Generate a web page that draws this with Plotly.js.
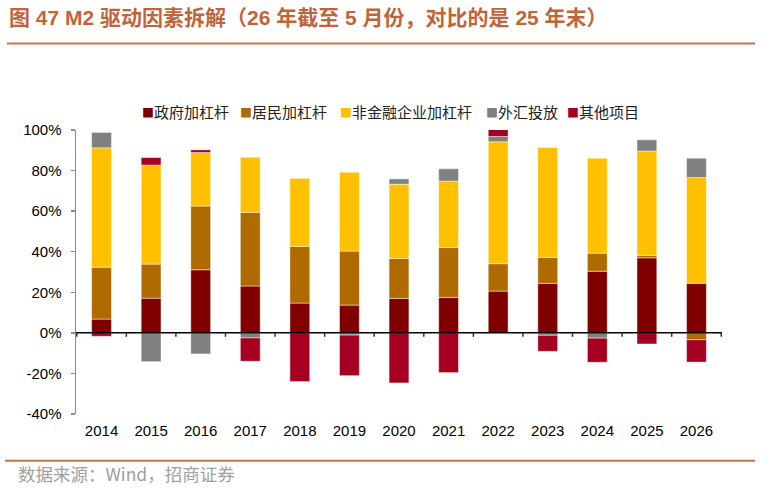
<!DOCTYPE html>
<html>
<head>
<meta charset="utf-8">
<script src="https://cdn.plot.ly/plotly-3.0.1.min.js"></script>
<style>html,body{margin:0;padding:0;background:#fff;}#chart{width:781px;height:499px;}</style>
</head>
<body>
<div id="chart"></div>
<script>
var categories = ['2014','2015','2016','2017','2018','2019','2020','2021','2022','2023','2024','2025','2026'];
var govLeverage = [6.8, 17.1, 31.1, 23.1, 14.7, 13.7, 17.0, 17.5, 20.6, 24.4, 30.4, 37.0, 24.4];
var householdLeverage = [25.6, 16.8, 31.4, 36.3, 27.9, 26.6, 19.7, 24.6, 13.5, 12.8, 8.9, 1.2, -3.4];
var corpLeverage = [58.8, 48.8, 26.4, 27.2, 33.7, 38.9, 36.6, 32.7, 60.1, 54.2, 46.8, 51.4, 52.2];
var fxPlacement = [7.6, -14.2, -10.4, -2.5, 0, -1.1, 2.6, 6.1, 2.6, -1.2, -2.6, 5.6, 9.5];
var otherItems = [-1.7, 3.7, 1.3, -11.5, -24.0, -20.0, -24.7, -19.6, 3.9, -7.9, -11.9, -5.5, -11.0];
var seriesNames = ['政府加杠杆', '居民加杠杆', '非金融企业加杠杆', '外汇投放', '其他项目'];
var yTicks = [-40, -20, 0, 20, 40, 60, 80, 100];
var yTickText = yTicks.map(function(v){ return v + '%'; });

var colors = ['#800000', '#AF6A00', '#FFC000', '#808080', '#A50021'];
var seriesData = [govLeverage, householdLeverage, corpLeverage, fxPlacement, otherItems];

var traces = seriesData.map(function(vals, i){
  return {
    type: 'bar', x: categories, y: vals, name: seriesNames[i],
    marker: {color: colors[i], line: {color: 'rgba(255,255,255,0.45)', width: 1}},
    showlegend: false, hoverinfo: 'x+y+name'
  };
});

// paper-coordinate helpers (plot area: x 76..722, y 130..414)
function px(x){ return (x - 76) / 646; }
function py(y){ return (414 - y) / 284; }

var yMin = yTicks[0], yMax = yTicks[yTicks.length - 1];
var zeroFrac = (0 - yMin) / (yMax - yMin);

var legendStarts = [140, 238, 337.5, 483.5, 565];
var annotations = seriesNames.map(function(n, i){
  return {
    xref: 'paper', yref: 'paper', x: px(legendStarts[i]), y: py(111),
    xanchor: 'left', yanchor: 'middle', showarrow: false,
    text: '<span style="color:' + colors[i] + ';font-size:12px">■</span>' + n,
    font: {family: '"Noto Sans CJK SC", sans-serif', size: 15, color: '#222'}
  };
});
annotations.push({
  xref: 'paper', yref: 'paper', x: px(16), y: py(473),
  xanchor: 'left', yanchor: 'middle', showarrow: false,
  text: '数据来源：Wind，招商证券',
  font: {family: '"Noto Sans CJK SC", sans-serif', size: 17.5, color: '#A0A0A0'}
});

var shapes = [
  {type: 'line', xref: 'paper', yref: 'paper', x0: px(7), x1: px(755), y0: py(43.5), y1: py(43.5),
   line: {color: '#C87050', width: 2}},
  {type: 'line', xref: 'paper', yref: 'paper', x0: px(5), x1: px(755), y0: py(460.7), y1: py(460.7),
   line: {color: '#C87050', width: 2}},
  // category axis line crossing at 0
  {type: 'line', xref: 'paper', yref: 'paper', x0: 0, x1: 1, y0: zeroFrac, y1: zeroFrac,
   line: {color: '#000', width: 1.5}, layer: 'above'}
];
// category boundary tick marks hanging below the zero line
for (var i = 0; i <= categories.length; i++) {
  shapes.push({
    type: 'line', xref: 'x', yref: 'paper',
    x0: i - 0.5, x1: i - 0.5, y0: zeroFrac, y1: zeroFrac - 4/284,
    line: {color: '#333', width: 1.5}, layer: 'above'
  });
}

var layout = {
  width: 781, height: 499,
  margin: {l: 76, r: 59, t: 130, b: 85},
  paper_bgcolor: '#fff', plot_bgcolor: '#fff',
  barmode: 'relative', bargap: 0.6,
  title: {
    text: '<b>图 47 M2 驱动因素拆解（26 年截至 5 月份，对比的是 25 年末）</b>',
    xref: 'container', yref: 'container', x: 9/781, xanchor: 'left',
    y: 1 - 18/499, yanchor: 'middle',
    font: {family: '"Liberation Sans", "Noto Sans CJK SC", sans-serif', size: 21, color: '#C0653A'}
  },
  xaxis: {
    type: 'category', showline: false, ticks: '', showgrid: false, zeroline: false,
    tickfont: {family: '"Liberation Sans", Arial, sans-serif', size: 15, color: '#000'},
    ticklabelstandoff: 6
  },
  yaxis: {
    range: [yMin, yMax], autorange: false,
    tickmode: 'array', tickvals: yTicks, ticktext: yTickText,
    showgrid: false, zeroline: false,
    showline: true, linecolor: '#8a8a8a', linewidth: 1.5,
    ticks: 'outside', ticklen: 4, tickcolor: '#8a8a8a', tickwidth: 1.5,
    tickfont: {family: '"Liberation Sans", Arial, sans-serif', size: 15, color: '#000'},
    ticklabelstandoff: 6
  },
  shapes: shapes,
  annotations: annotations
};

Plotly.newPlot('chart', traces, layout, {displayModeBar: false, staticPlot: true});
</script>
</body>
</html>
